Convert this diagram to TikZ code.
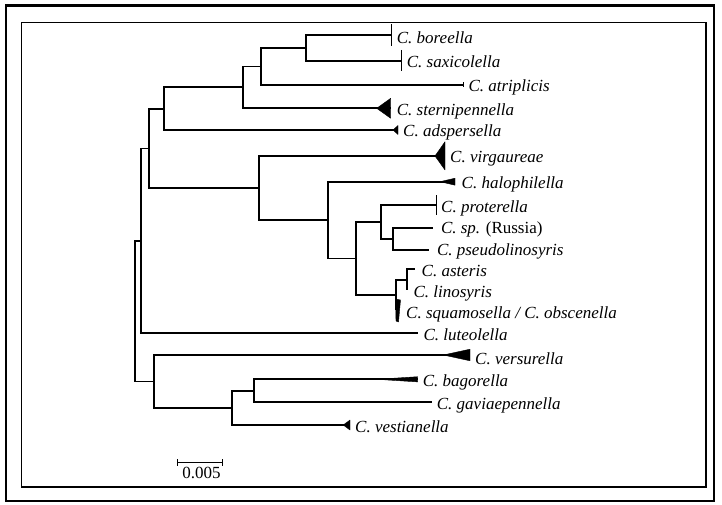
\documentclass[tikz,border=0pt]{standalone}
\usepackage{fontspec}
\setmainfont{Liberation Serif}
\usepackage{tikz}
\usetikzlibrary{calc}

\begin{document}
\begin{tikzpicture}[x=1pt, y=-1pt,
  branch/.style={black, line width=1.8pt},
  bar/.style={black, line width=0.9pt},
  clade/.style={fill=black, draw=black, line width=0.4pt, line join=round},
  taxon/.style={anchor=base west, inner sep=0pt, xshift=5pt, yshift=-7pt, font=\fontsize{17}{17}\selectfont\itshape}]
\useasboundingbox (0,0) rectangle (722,505);
\draw[line width=2.2pt] (6.2,5.5) rectangle (714,501);
\draw[line width=1.3pt] (21.5,22.7) rectangle (706,487);
% inner nodes
\coordinate (root) at (135,311.4);
\coordinate (nMid) at (140.7,240.9);
\coordinate (nUp) at (149,148.5);
\coordinate (nTop) at (164.3,108.8);
\coordinate (nBSAS) at (242.7,87.4);
\coordinate (nBSA) at (260.7,66.5);
\coordinate (nBS) at (305.7,48);
\coordinate (nVir) at (259,188);
\coordinate (nHal) at (328.3,220.1);
\coordinate (nPS) at (356,258.5);
\coordinate (nProt) at (381,222.1);
\coordinate (nSP) at (393.3,239.2);
\coordinate (nSq) at (396,294.9);
\coordinate (nAL) at (407.3,279.7);
\coordinate (nLow) at (154.3,381.5);
\coordinate (nBGV) at (232.3,407.9);
\coordinate (nBG) at (254,390.8);
% tips
\coordinate (bor) at (391.7,35);
\coordinate (sax) at (401.7,61);
\coordinate (atr) at (463.3,85);
\coordinate (stern) at (390.7,108.3);
\coordinate (adsp) at (398,130);
\coordinate (vir) at (445,156);
\coordinate (hal) at (455,181.7);
\coordinate (prot) at (436,205);
\coordinate (sp) at (433.3,228.3);
\coordinate (pseudo) at (429.3,250);
\coordinate (ast) at (415,269.3);
\coordinate (lin) at (407.3,290);
\coordinate (squ) at (396,310);
\coordinate (lut) at (418.3,333.3);
\coordinate (vers) at (470,355);
\coordinate (bag) at (417.7,379.3);
\coordinate (gav) at (431.7,402.3);
\coordinate (vest) at (350,425);
\foreach \p/\c in {root/nMid, root/nLow, nMid/nUp, nMid/lut, nUp/nTop, nUp/nVir,
  nTop/nBSAS, nTop/adsp, nBSAS/nBSA, nBSAS/stern, nBSA/nBS, nBSA/atr, nBS/bor, nBS/sax,
  nVir/vir, nVir/nHal, nHal/hal, nHal/nPS, nPS/nProt, nPS/nSq, nProt/prot, nProt/nSP,
  nSP/sp, nSP/pseudo, nSq/nAL, nSq/squ, nAL/ast, nAL/lin,
  nLow/vers, nLow/nBGV, nBGV/nBG, nBGV/vest, nBG/bag, nBG/gav}
  \draw[branch] (\p) |- (\c);
% collapsed clades
\draw[bar] (bor) ++(0,-10.5) -- ++(0,21.5);
\draw[bar] (sax) ++(0,-11) -- ++(0,21.5);
\draw[bar] (atr) ++(0,-2.5) -- ++(0,5);
\draw[bar] (prot) ++(0,-10) -- ++(0,20);
\filldraw[clade] (stern) ++(0,-10) -- ++(0,20) -- ++(-14,-10) -- cycle;
\filldraw[clade] (adsp) ++(0,-4.5) -- ++(0,9) -- ++(-5,-4.5) -- cycle;
\filldraw[clade] (vir) ++(0,-14.3) -- ++(0,28.3) -- ++(-10,-14) -- cycle;
\filldraw[clade] (hal) ++(0,-3.5) -- ++(0,7) -- ++(-15,-3.5) -- cycle;
\filldraw[clade] (vers) ++(0,-5.8) -- ++(0,11.6) -- ++(-26.7,-5.8) -- cycle;
\filldraw[clade] (bag) ++(0,-2.6) -- ++(0,5.2) -- ++(-41,-2.6) -- cycle;
\filldraw[clade] (vest) ++(0,-5) -- ++(0,10) -- ++(-6.7,-5) -- cycle;
\filldraw[clade] (395.5,299) -- (400.5,300) -- (398.5,322) -- (396,321) -- cycle;
% labels
\node[taxon, yshift=-2pt] (lbor) at (bor) {C. boreella};
\node[taxon] (lsax) at (sax) {C. saxicolella};
\node[taxon] (latr) at (atr) {C. atriplicis};
\node[taxon, xshift=1pt] (lstern) at (stern) {C. sternipennella};
\node[taxon] (ladsp) at (adsp) {C. adspersella};
\node[taxon] (lvir) at (vir) {C. virgaureae};
\node[taxon, xshift=1.5pt] (lhal) at (hal) {C. halophilella};
\node[taxon] (lprot) at (prot) {C. proterella};
\node[taxon, xshift=2.5pt, yshift=2pt] (lsp) at (sp) {C. sp. \upshape(Russia)};
\node[taxon, xshift=2.5pt, yshift=2pt] (lpseudo) at (pseudo) {C. pseudolinosyris};
\node[taxon, xshift=1.5pt] (last) at (ast) {C. asteris};
\node[taxon, xshift=1pt] (llin) at (lin) {C. linosyris};
\node[taxon, xshift=5pt, yshift=-1.3pt] (lsqu) at (squ) {C. squamosella / C. obscenella};
\node[taxon] (llut) at (lut) {C. luteolella};
\node[taxon, yshift=-2pt] (lvers) at (vers) {C. versurella};
\node[taxon] (lbag) at (bag) {C. bagorella};
\node[taxon] (lgav) at (gav) {C. gaviaepennella};
\node[taxon] (lvest) at (vest) {C. vestianella};
% scale bar
\coordinate (sbl) at (177.5,462.7);
\coordinate (sbr) at (222.5,462.7);
\draw[black, line width=1.4pt] (sbl) -- (sbr);
\draw[branch] (sbl) ++(0,-3.6) -- ++(0,7.2);
\draw[branch] (sbr) ++(0,-3.6) -- ++(0,7.2);
\node[anchor=base, inner sep=0pt, font=\fontsize{17}{17}\selectfont] (lsb) at ($(sbl)!0.5!(sbr)+(1.5,15.6)$) {0.005};
\end{tikzpicture}
\end{document}
